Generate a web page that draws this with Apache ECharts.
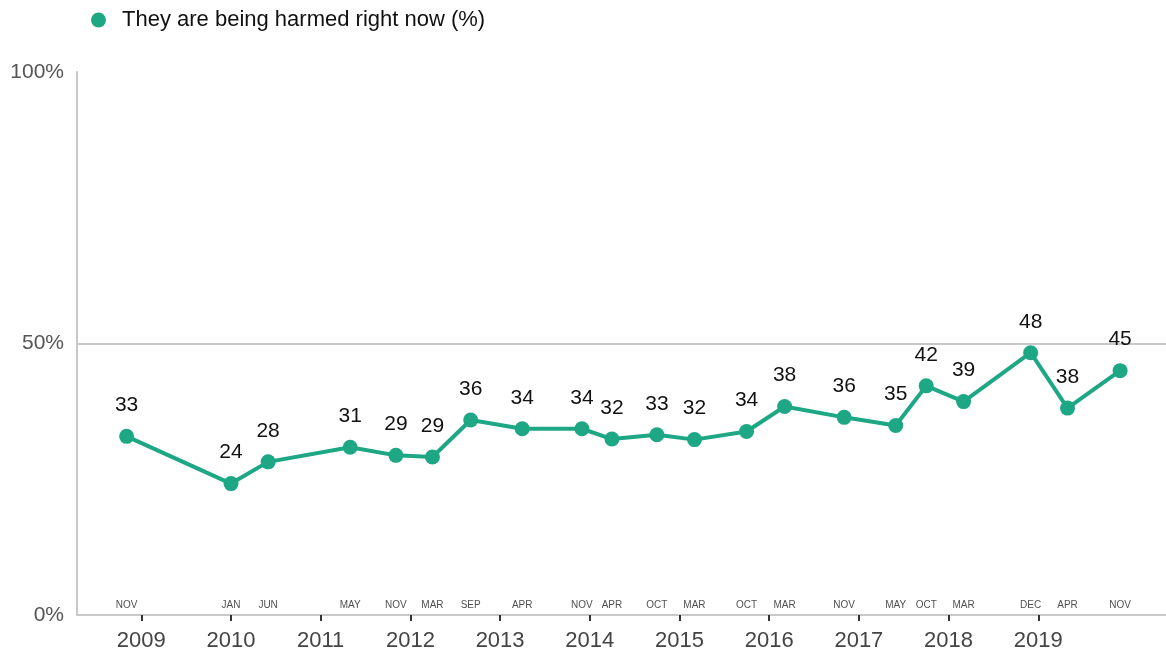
<!DOCTYPE html>
<html>
<head>
<meta charset="utf-8">
<script src="https://cdn.jsdelivr.net/npm/echarts@6/dist/echarts.min.js"></script>
<style>
html,body{margin:0;padding:0;background:#ffffff;}
#chart{width:1166px;height:656px;}
</style>
</head>
<body>
<div id="chart"></div>
<script>
// ---- data ----
const seriesName = 'They are being harmed right now (%)';
const surveyDates = [
  '2008-11-02', '2010-01-01', '2010-06-01', '2011-05-01', '2011-11-03',
  '2012-03-31', '2012-09-03', '2013-04-01', '2013-11-30', '2014-04-01',
  '2014-10-01', '2015-03-03', '2015-10-01', '2016-03-04', '2016-11-02',
  '2017-05-31', '2017-10-02', '2018-03-03', '2018-12-01', '2019-04-30',
  '2019-11-30'
];
const harmedValues = [
  32.9, 24.2, 28.2, 30.9, 29.4,
  29.1, 35.9, 34.3, 34.3, 32.4,
  33.2, 32.3, 33.8, 38.4, 36.4,
  34.9, 42.2, 39.3, 48.3, 38.1,
  45.0
];
const yearTicks = [2009, 2010, 2011, 2012, 2013, 2014, 2015, 2016, 2017, 2018, 2019];
const monthNames = ['JAN','FEB','MAR','APR','MAY','JUN','JUL','AUG','SEP','OCT','NOV','DEC'];
const yTickLabels = ['0%', '50%', '100%'];

// ---- helpers ----
function toDecimalYear(s) {
  const p = s.split('-').map(Number);
  const t = Date.UTC(p[0], p[1] - 1, p[2]);
  const a = Date.UTC(p[0], 0, 1), b = Date.UTC(p[0] + 1, 0, 1);
  return p[0] + (t - a) / (b - a);
}
function monthOf(s) { return monthNames[Number(s.split('-')[1]) - 1]; }

const lineData = surveyDates.map((d, i) => [toDecimalYear(d), harmedValues[i]]);
const monthData = surveyDates.map(d => ({ value: [toDecimalYear(d), 0], month: monthOf(d) }));

const teal = '#1ea784';
const chart = echarts.init(document.getElementById('chart'), null, { renderer: 'canvas' });
chart.setOption({
  animation: false,
  textStyle: { fontFamily: "'Liberation Sans', Arial, sans-serif" },
  legend: {
    data: [seriesName],
    left: 86,
    top: 4,
    icon: 'circle',
    itemWidth: 37,
    itemHeight: 15,
    textStyle: { fontSize: 22, color: '#111' }
  },
  grid: { left: 77, right: 0, top: 72, bottom: 41, containLabel: false },
  xAxis: {
    type: 'value',
    min: 2008.283,
    max: 2020.424,
    axisLine: { show: true, lineStyle: { color: '#c8c8c8', width: 2 } },
    splitLine: { show: false },
    axisTick: {
      show: true, customValues: yearTicks, length: 6, inside: false,
      lineStyle: { color: '#333', width: 2 }
    },
    axisLabel: {
      customValues: yearTicks,
      formatter: v => String(Math.round(v)),
      fontSize: 22, color: '#444', margin: 15
    }
  },
  yAxis: {
    type: 'value',
    min: 0, max: 100, interval: 50,
    axisLine: { show: true, lineStyle: { color: '#c8c8c8', width: 2 } },
    axisTick: { show: false },
    axisLabel: {
      formatter: v => yTickLabels[Math.round(v / 50)],
      fontSize: 21, color: '#555', margin: 13
    },
    splitLine: {
      show: true,
      lineStyle: { color: ['rgba(0,0,0,0)', '#c8c8c8', 'rgba(0,0,0,0)'], width: 2 }
    }
  },
  series: [
    {
      name: seriesName,
      type: 'line',
      data: lineData,
      color: teal,
      lineStyle: { color: teal, width: 4 },
      itemStyle: { color: teal },
      symbol: 'circle',
      symbolSize: 15,
      z: 3,
      label: {
        show: true, position: 'top', distance: 13,
        fontSize: 21, color: '#111',
        formatter: p => String(Math.round(p.value[1]))
      }
    },
    {
      name: 'months',
      type: 'scatter',
      data: monthData,
      symbol: 'circle',
      symbolSize: 1,
      itemStyle: { color: 'rgba(0,0,0,0)' },
      silent: true,
      z: 4,
      label: {
        show: true, position: 'top', distance: 4,
        fontSize: 10, color: '#222',
        fontFamily: "'Liberation Sans Narrow', 'Arial Narrow', 'Liberation Sans', Arial, sans-serif",
        formatter: p => p.data.month
      }
    }
  ]
});
</script>
</body>
</html>
